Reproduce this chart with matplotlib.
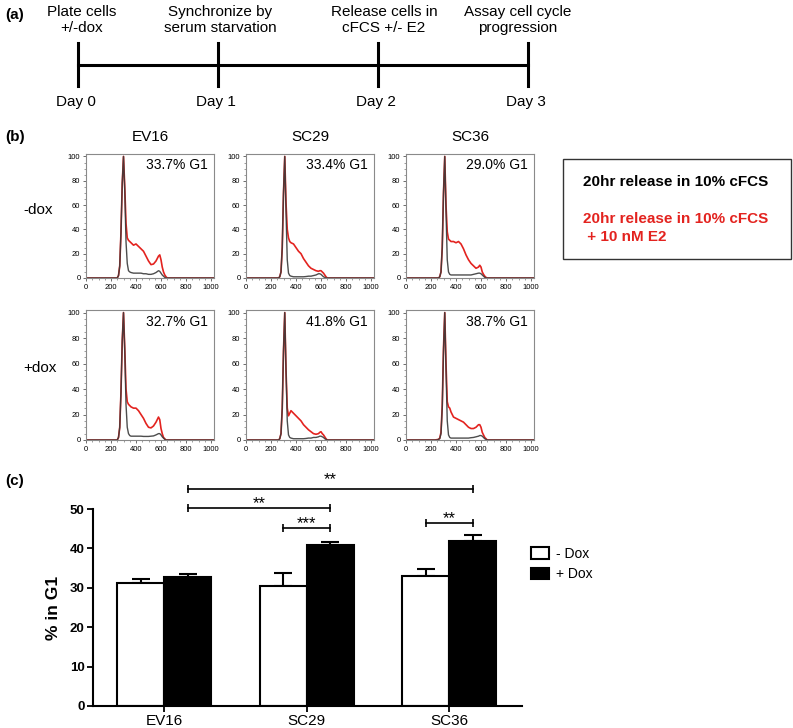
import matplotlib
matplotlib.use('Agg')
import matplotlib.pyplot as plt
from matplotlib.patches import Patch, Rectangle
from matplotlib.ticker import MultipleLocator

plt.rcParams['font.family'] = ['Liberation Sans', 'DejaVu Sans']

W, H = 793, 728

# ---- (a) timeline ----
steps = ['Plate cells\n+/-dox', 'Synchronize by\nserum starvation',
         'Release cells in\ncFCS +/- E2', 'Assay cell cycle\nprogression']
days = ['Day 0', 'Day 1', 'Day 2', 'Day 3']

# ---- (b) flow histograms ----
lines_ = ['EV16', 'SC29', 'SC36']
rows = ['-dox', '+dox']
g1_text = [['33.7% G1', '33.4% G1', '29.0% G1'],
           ['32.7% G1', '41.8% G1', '38.7% G1']]

dna = [0, 230, 250, 260, 270, 280, 290, 300, 310, 320, 330, 340, 350, 360, 380, 400, 420,
       440, 460, 480, 500, 520, 540, 560, 580, 590, 600, 610, 620, 630, 640, 650, 670, 1024]

# 20hr release in cFCS (black)
ev16_nodox_ctl = [0, 0, 0, 2, 10, 38, 78, 100, 72, 30, 12, 6, 5, 4.5, 4, 4, 4,
                  4, 3.5, 3.5, 3, 3, 3.5, 4.5, 6, 5.5, 4, 2.5, 1.5, 0.5, 0, 0, 0, 0]
sc29_nodox_ctl = [0, 0, 0, 0, 1, 5, 25, 70, 100, 55, 15, 4, 2, 1.5, 1, 1, 1,
                  1, 1, 1.2, 1.5, 1.5, 2, 2.5, 3.5, 3.5, 3, 2, 1, 0.5, 0, 0, 0, 0]
sc36_nodox_ctl = [0, 0, 0, 0, 1, 5, 25, 70, 100, 55, 15, 5, 3, 2.5, 2.5, 2.5, 2.5,
                  2.5, 2.5, 2.5, 2.5, 2.5, 3, 3.5, 4, 4, 3.5, 2.5, 1.5, 0.5, 0, 0, 0, 0]
ev16_dox_ctl = [0, 0, 0, 2, 10, 38, 78, 100, 70, 28, 10, 5, 3.5, 3, 3, 3, 3,
                3, 2.8, 2.8, 2.8, 3, 3.2, 4, 5, 5, 4, 2.5, 1.5, 0.5, 0, 0, 0, 0]
sc29_dox_ctl = [0, 0, 0, 0, 1, 5, 25, 70, 100, 55, 15, 4, 2, 1.5, 1, 1, 1,
                1, 1, 1.2, 1.5, 1.5, 2, 2, 2.5, 3, 3, 2.5, 2, 1, 0.5, 0, 0, 0]
sc36_dox_ctl = [0, 0, 0, 0.5, 1, 5, 25, 70, 100, 55, 15, 4, 2, 1.5, 1.5, 1.5, 1.5,
                1.5, 1.5, 1.5, 1.5, 1.8, 2, 2.5, 3, 3.5, 3.5, 3, 2, 1, 0.5, 0, 0, 0]

# 20hr release in cFCS + 10 nM E2 (red)
ev16_nodox_e2 = [0, 0, 0, 2, 10, 38, 78, 100, 75, 45, 33, 31, 30, 29, 27, 28, 26,
                 24, 22, 18, 14, 11, 11.5, 14, 18, 19, 15, 9, 5, 2.5, 1, 0, 0, 0]
sc29_nodox_e2 = [0, 0, 0, 0, 1, 5, 25, 70, 100, 62, 40, 33, 30, 29, 28, 25, 22,
                 20, 16, 13, 10, 8, 7, 6, 5.5, 6, 6, 5, 4, 2.5, 1, 0, 0, 0]
sc36_nodox_e2 = [0, 0, 0, 0, 1, 5, 25, 70, 100, 60, 38, 32, 31, 30, 30, 29, 30,
                 28, 24, 19, 15, 12, 10, 8, 9, 10.5, 9, 5, 3, 1.5, 0.5, 0, 0, 0]
ev16_dox_e2 = [0, 0, 0, 2, 10, 38, 78, 100, 72, 40, 30, 28, 27, 26, 25, 25, 23,
               20, 17, 13, 10, 9.5, 11, 14, 18, 16, 9, 5, 2, 1, 0, 0, 0, 0]
sc29_dox_e2 = [0, 0, 0, 0, 1, 5, 25, 70, 100, 55, 25, 19, 21, 23, 21, 19, 17,
               15, 12, 10, 8, 6.5, 5, 4.5, 5, 6, 6.5, 5, 4, 2.5, 1, 0, 0, 0]
sc36_dox_e2 = [0, 0, 0.3, 0.5, 1.5, 6, 27, 72, 100, 60, 30, 26, 25, 22, 18, 17, 16,
               15, 14, 12, 10, 9, 9, 10, 12, 12, 10, 6, 4, 2, 1, 0, 0, 0]

ctl = [[ev16_nodox_ctl, sc29_nodox_ctl, sc36_nodox_ctl],
       [ev16_dox_ctl, sc29_dox_ctl, sc36_dox_ctl]]
e2 = [[ev16_nodox_e2, sc29_nodox_e2, sc36_nodox_e2],
      [ev16_dox_e2, sc29_dox_e2, sc36_dox_e2]]

# ---- (c) bar chart ----
groups = ['EV16', 'SC29', 'SC36']
g1_minus = [31.2, 30.4, 33.0]
g1_minus_err = [1.1, 3.3, 1.8]
g1_plus = [32.7, 40.9, 41.9]
g1_plus_err = [0.7, 0.8, 1.6]
# (left bar, right bar, height, label); bars: (group, 0=-Dox / 1=+Dox)
sig = [((0, 1), (2, 1), 55.1, '**'),
       ((0, 1), (1, 1), 50.3, '**'),
       ((1, 0), (1, 1), 45.2, '***'),
       ((2, 0), (2, 1), 46.4, '**')]

RED = '#e3231f'

fig = plt.figure(figsize=(W / 100, H / 100), dpi=100)


def px_axes(left, top, right, bottom):
    return fig.add_axes([left / W, 1 - bottom / H, (right - left) / W, (bottom - top) / H])


ov = fig.add_axes([0, 0, 1, 1])
ov.set_xlim(0, W)
ov.set_ylim(H, 0)
ov.axis('off')

# panel letters
for lab, y in [('(a)', 15), ('(b)', 137), ('(c)', 481)]:
    ov.text(5, y, lab, fontsize=11, fontweight='bold', va='center')

# timeline
tick_x = [78, 218, 378, 528]
text_x = [82, 220, 384, 518]
ov.plot([tick_x[0], tick_x[-1]], [65, 65], color='black', lw=2.2)
for tx, cx, s, d in zip(tick_x, text_x, steps, days):
    ov.plot([tx, tx], [43, 86], color='black', lw=2.2)
    ov.text(cx, 20, s, ha='center', va='center', fontsize=11, linespacing=1.15)
    ov.text(tx - 2, 102, d, ha='center', va='center', fontsize=11)

# histograms
col_left = [86, 246, 406]
row_tb = [(154, 278), (310, 440)]
for r in range(2):
    for c in range(3):
        ax = px_axes(col_left[c], row_tb[r][0], col_left[c] + 128, row_tb[r][1])
        ax.plot(dna, e2[r][c], color=RED, lw=1.2)
        ax.plot(dna, ctl[r][c], color='#3a3a3a', lw=1.0, alpha=0.9)
        ax.set_xlim(0, 1024)
        ax.set_ylim(0, 102)
        ax.xaxis.set_major_locator(MultipleLocator(200))
        ax.xaxis.set_minor_locator(MultipleLocator(50))
        ax.yaxis.set_major_locator(MultipleLocator(20))
        ax.yaxis.set_minor_locator(MultipleLocator(5))
        ax.tick_params(which='major', labelsize=5.5, length=2.5, width=0.6,
                       colors='#555555', labelcolor='black', pad=1.5)
        ax.tick_params(which='minor', length=1.3, width=0.5, colors='#777777')
        for sp in ax.spines.values():
            sp.set_color('#8a8a8a')
            sp.set_linewidth(0.8)
        ax.text(0.95, 0.91, g1_text[r][c], transform=ax.transAxes,
                ha='right', va='center', fontsize=10)
        if r == 0:
            ax.set_title(lines_[c], fontsize=11, pad=9)

ov.text(38, 210, rows[0], ha='center', va='center', fontsize=11)
ov.text(40, 368, rows[1], ha='center', va='center', fontsize=11)

# legend box for (b)
ov.add_patch(Rectangle((563, 159), 228, 100, fill=False, lw=1.0, edgecolor='#333333'))
ov.text(583, 182, '20hr release in 10% cFCS', fontsize=11, fontweight='bold', va='center')
ov.text(583, 219, '20hr release in 10% cFCS', fontsize=11, fontweight='bold',
        va='center', color=RED)
ov.text(583, 237, ' + 10 nM E2', fontsize=11, fontweight='bold', va='center', color=RED)

# bar chart
narrow = ['Liberation Sans Narrow', 'Liberation Sans', 'DejaVu Sans']
bx = px_axes(93, 509, 522, 706)
pos = range(len(groups))
bw = 0.33
xm = [p - bw / 2 for p in pos]
xp = [p + bw / 2 for p in pos]
bx.bar(xm, g1_minus, width=bw, color='white', edgecolor='black', linewidth=1.5, zorder=2)
bx.bar(xp, g1_plus, width=bw, color='black', edgecolor='black', linewidth=1.5, zorder=2)
bx.errorbar(xm, g1_minus, yerr=[[0] * 3, g1_minus_err], fmt='none', ecolor='black',
            elinewidth=1.5, capsize=6.5, capthick=1.5, zorder=1)
bx.errorbar(xp, g1_plus, yerr=[[0] * 3, g1_plus_err], fmt='none', ecolor='black',
            elinewidth=1.5, capsize=6.5, capthick=1.5, zorder=1)
bx.set_xlim(-0.5, 2.51)
bx.set_ylim(0, 50)
bx.set_yticks([0, 10, 20, 30, 40, 50])
bx.set_xticks(list(pos))
bx.set_xticklabels(groups, fontsize=11)
for lab in bx.get_yticklabels():
    lab.set_family(narrow)
    lab.set_fontweight('bold')
    lab.set_fontsize(9.5)
bx.tick_params(axis='both', length=4, width=1.3, pad=2)
bx.spines['top'].set_visible(False)
bx.spines['right'].set_visible(False)
bx.spines['left'].set_linewidth(1.5)
bx.spines['bottom'].set_linewidth(1.5)
bx.set_ylabel('% in G1', fontsize=12.5, fontweight='bold', labelpad=6)

bar_x = [xm, xp]
gaps = [1.2, -0.1, -0.1, -0.1]
for (a, b, y, lab), gap in zip(sig, gaps):
    x1 = bar_x[a[1]][a[0]]
    x2 = bar_x[b[1]][b[0]]
    bx.plot([x1, x2], [y, y], color='black', lw=1.2, clip_on=False)
    bx.vlines([x1, x2], y - 1.0, y + 1.0, color='black', lw=1.2, clip_on=False)
    bx.text((x1 + x2) / 2, y + gap, lab, ha='center', va='baseline', fontsize=12,
            clip_on=False)

handles = [Patch(facecolor='white', edgecolor='black', linewidth=1.5, label='- Dox'),
           Patch(facecolor='black', edgecolor='black', linewidth=1.5, label='+ Dox')]
fig.legend(handles=handles, loc='center left', bbox_to_anchor=(518 / W, 1 - 564 / H),
           frameon=False, prop={'family': narrow, 'size': 10}, handlelength=1.3,
           handleheight=0.9, handletextpad=0.5, labelspacing=0.45)

fig.savefig('out.png', dpi=100)
